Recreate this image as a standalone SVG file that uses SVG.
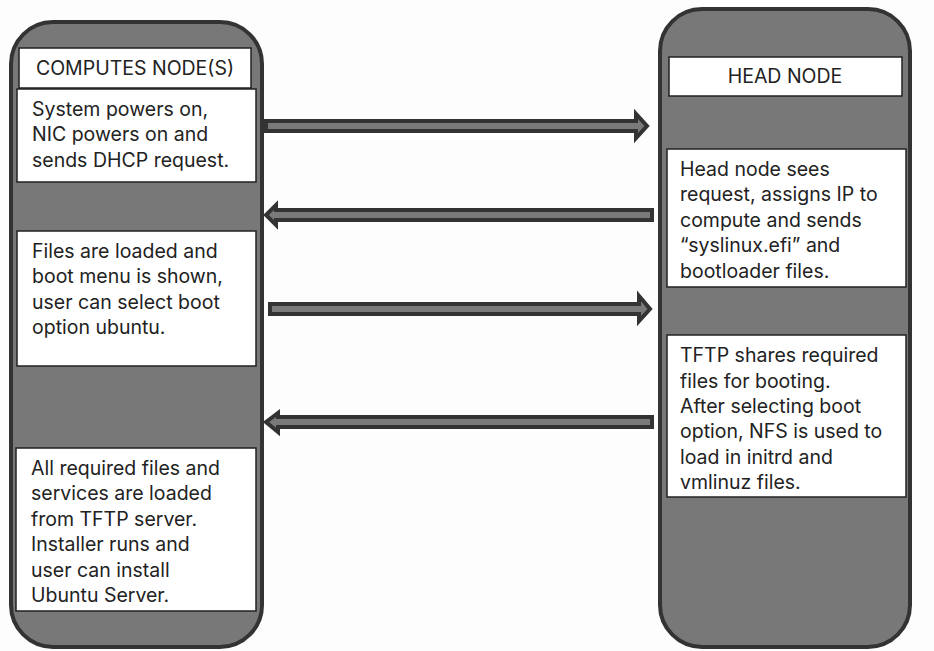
<svg xmlns="http://www.w3.org/2000/svg" width="934" height="651" viewBox="0 0 934 651">
<style>
.col{fill:#787878;stroke:#333;stroke-width:4}
.box{fill:#fff;stroke:#222;stroke-width:1.5}
.t{font-family:Inter,"Open Sans","Liberation Sans",sans-serif;font-size:19.5px;fill:#222}
.h{font-family:Inter,"Open Sans","Liberation Sans",sans-serif;font-size:19.5px;fill:#222;text-anchor:middle}
.arr{fill:#7a7a7a;stroke:#333;stroke-width:4;stroke-linejoin:miter}
</style>
<rect width="934" height="651" fill="#fdfdfd"/>
<g id="compute-node">
<rect class="col" x="11" y="22" width="251" height="625" rx="42"/>
<rect class="box" x="19" y="48" width="232" height="40"/>
<text class="h" x="135" y="75">COMPUTES NODE(S)</text>
<rect class="box" x="17" y="89" width="239" height="93"/>
<text class="t"><tspan x="32" y="116">System powers on,</tspan><tspan x="32" y="141">NIC powers on and</tspan><tspan x="32" y="167">sends DHCP request.</tspan></text>
<rect class="box" x="17" y="231" width="239" height="135"/>
<text class="t"><tspan x="32" y="258">Files are loaded and</tspan><tspan x="32" y="283">boot menu is shown,</tspan><tspan x="32" y="309">user can select boot</tspan><tspan x="32" y="334">option ubuntu.</tspan></text>
<rect class="box" x="16" y="448" width="240" height="163"/>
<text class="t"><tspan x="31" y="475">All required files and</tspan><tspan x="31" y="500">services are loaded</tspan><tspan x="31" y="526">from TFTP server.</tspan><tspan x="31" y="551">Installer runs and</tspan><tspan x="31" y="577">user can install</tspan><tspan x="31" y="602">Ubuntu Server.</tspan></text>
</g>
<g id="head-node">
<rect class="col" x="660" y="9" width="250" height="638" rx="42"/>
<rect class="box" x="669" y="57" width="233" height="39"/>
<text class="h" x="785" y="83">HEAD NODE</text>
<rect class="box" x="667" y="149" width="239" height="138"/>
<text class="t"><tspan x="680" y="176">Head node sees</tspan><tspan x="680" y="201">request, assigns IP to</tspan><tspan x="680" y="227">compute and sends</tspan><tspan x="680" y="252">“syslinux.efi” and</tspan><tspan x="680" y="278">bootloader files.</tspan></text>
<rect class="box" x="667" y="335" width="239" height="162"/>
<text class="t"><tspan x="680" y="362">TFTP shares required</tspan><tspan x="680" y="388">files for booting.</tspan><tspan x="680" y="413">After selecting boot</tspan><tspan x="680" y="438">option, NFS is used to</tspan><tspan x="680" y="464">load in initrd and</tspan><tspan x="680" y="489">vmlinuz files.</tspan></text>
</g>
<g id="connectors">
<polygon class="arr" points="266,121 636,121 636,114 647,126 636,138 636,131 266,131"/>
<polygon class="arr" points="652,210 276,210 276,205 266,215 276,225 276,220 652,220"/>
<polygon class="arr" points="270,304 639,304 639,296 650,309 639,321 639,314 270,314"/>
<polygon class="arr" points="652,417 278,417 278,413 266,422 278,432 278,427 652,427"/>
</g>
</svg>
